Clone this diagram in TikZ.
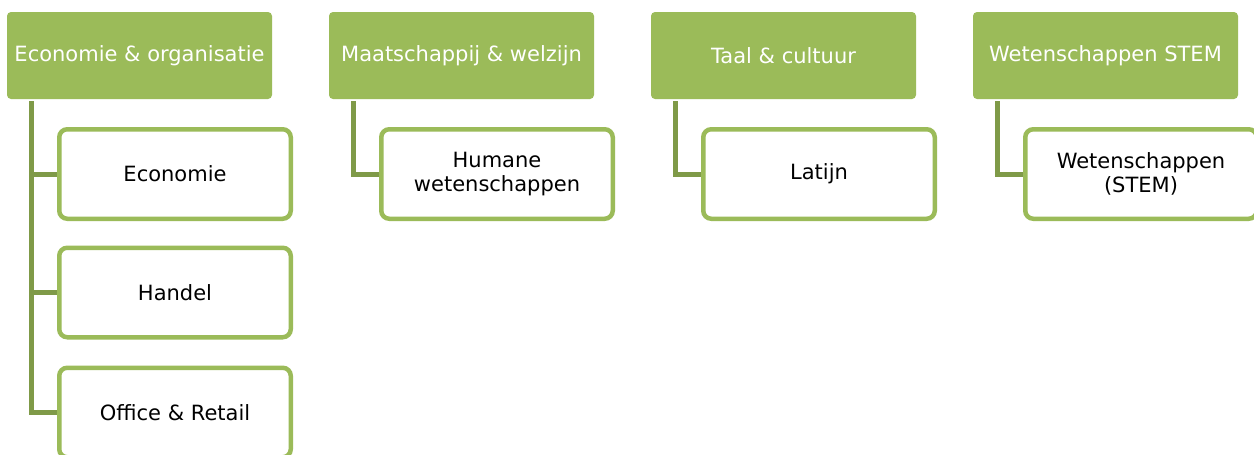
\documentclass[tikz,border=0pt]{standalone}
\usepackage{fontspec}
\setmainfont{DejaVu Sans}
\usetikzlibrary{backgrounds}
\definecolor{olive}{HTML}{9BBB59}
\definecolor{darkolive}{HTML}{7F9A48}
\tikzset{
  header/.style={rectangle, rounded corners=4pt, fill=olive, text=white,
    minimum width=265pt, minimum height=87pt, inner sep=0pt,
    font=\fontsize{21}{24}\selectfont, align=center},
  child/.style={rectangle, rounded corners=8pt, draw=olive, line width=4.5pt, fill=white,
    text=black, minimum width=231.5pt, minimum height=89.5pt, inner sep=0pt,
    font=\fontsize{21}{24}\selectfont, align=center},
  conn/.style={draw=darkolive, line width=5pt, line join=miter}
}
\begin{document}
\begin{tikzpicture}[x=1pt,y=-1pt]
\useasboundingbox (0,0) rectangle (1254,455);
% headers
\node[header] (h1) at (139.5,55.5) {Economie \& organisatie};
\node[header] (h2) at (461.5,55.5) {Maatschappij \& welzijn};
\node[header] (h3) at (783.5,55.5) {Taal \& cultuur};
\node[header] (h4) at (1105.5,55.5) {Wetenschappen STEM};
% connector tops
\coordinate (t1) at ([xshift=25pt,yshift=-2pt]h1.south west);
\coordinate (t2) at ([xshift=25pt,yshift=-2pt]h2.south west);
\coordinate (t3) at ([xshift=25pt,yshift=-2pt]h3.south west);
\coordinate (t4) at ([xshift=25pt,yshift=-2pt]h4.south west);
% children
\node[child] (c11) at (175,174) {Economie};
\node[child] (c12) at (175,292.5) {Handel};
\node[child] (c13) at (175,412.5) {Office \& Retail};
\node[child] (c21) at (497,174) {Humane\\wetenschappen};
\node[child] (c31) at (819,174) {Latijn};
\node[child] (c41) at (1141,174) {Wetenschappen\\(STEM)};
% connectors (behind the boxes)
\begin{scope}[on background layer]
\path[conn] (t1) |- (c13.center);
\path[conn] (t1) |- (c12.center);
\path[conn] (t1) |- (c11.center);
\path[conn] (t2) |- (c21.center);
\path[conn] (t3) |- (c31.center);
\path[conn] (t4) |- (c41.center);
\end{scope}
\end{tikzpicture}
\end{document}
